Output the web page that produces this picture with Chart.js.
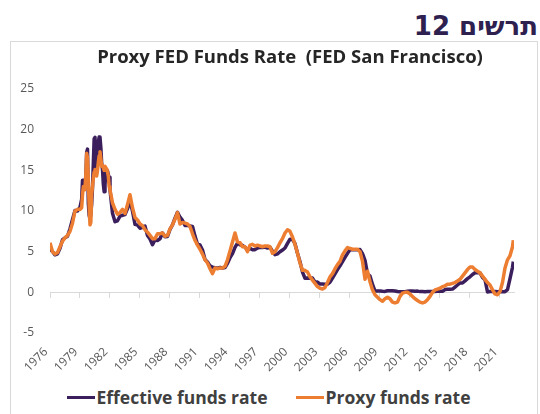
<!DOCTYPE html>
<html><head><meta charset="utf-8">
<script src="https://cdn.jsdelivr.net/npm/chart.js@4.4.1/dist/chart.umd.min.js"></script>
<style>
html,body{margin:0;padding:0;background:#fff;}
body{width:540px;height:414px;position:relative;overflow:hidden;font-family:"Open Sans",sans-serif;}
#heading{position:absolute;right:2px;top:11px;font:bold 26px "DejaVu Sans",sans-serif;color:#2e2150;direction:rtl;white-space:nowrap;line-height:normal;}
#box{position:absolute;left:10px;top:41px;width:526px;height:400px;border:1px solid #d9d9d9;}
#title{position:absolute;left:0;width:580px;top:43px;text-align:center;font:bold 18.5px "Open Sans",sans-serif;color:#262626;white-space:nowrap;}
#wrap{position:absolute;left:11px;top:42px;width:525px;height:340px;}
#legend{position:absolute;left:0;width:537px;top:385px;display:flex;justify-content:center;align-items:center;font:bold 17.5px "Open Sans",sans-serif;color:#404040;white-space:nowrap;}
.item{display:flex;align-items:center;}
.item + .item{margin-left:28px;}
.sw{display:inline-block;width:28px;height:3px;margin-right:2px;}
</style>
</head><body>
<div id="heading">תרשים 12</div>
<div id="box"></div>
<div id="wrap"><canvas id="c" width="525" height="340"></canvas></div>
<div id="title">Proxy FED Funds Rate&nbsp; (FED San Francisco)</div>
<div id="legend">
  <div class="item"><span class="sw" style="background:#3b1e5c"></span><span>Effective funds rate</span></div>
  <div class="item"><span class="sw" style="background:#ed7d31"></span><span>Proxy funds rate</span></div>
</div>
<script>
// x tick labels (years)
const tickYears = [1976,1979,1982,1985,1988,1991,1994,1997,2000,2003,2006,2009,2012,2015,2018,2021];

// categories: quarterly Jul-1976..Apr-1979, monthly Jul-1979..Jun-1982, quarterly Jul-1982..Oct-2022, Nov-2022
function monthSeq(y0,m0,y1,m1,step){
  const out=[]; let y=y0,m=m0;
  while(y<y1||(y===y1&&m<=m1)){ out.push(y+(m-1)/12); m+=step; while(m>12){m-=12;y++;} }
  return out;
}
const dates = [].concat(
  monthSeq(1976,7,1979,4,3),
  monthSeq(1979,7,1982,6,1),
  monthSeq(1982,7,2022,10,3),
  monthSeq(2022,11,2022,11,1)
);

const effectiveRate = [
 5.31,5.02,4.61,4.73,5.42,6.47,6.70,6.89,7.81,8.96,10.07,10.01,
 10.47,10.94,11.43,13.77,13.18,13.78,
 13.82,14.13,17.19,17.61,10.98,9.47,9.03,9.61,10.87,12.81,15.85,18.90,
 19.08,15.93,14.70,15.72,18.52,19.10,19.04,17.82,15.87,15.08,13.31,12.37,
 13.22,14.78,14.68,14.94,14.45,14.15,
 12.59,9.71,
 8.68,8.80,9.37,9.48,
 9.56,10.29,11.23,9.99,
 8.35,8.27,7.88,7.99,
 8.14,6.99,6.56,5.85,
 6.43,6.37,6.58,7.29,
 6.83,6.87,7.75,8.30,
 9.12,9.84,9.24,8.84,
 8.23,8.26,8.15,8.11,
 6.91,5.91,5.82,5.21,
 4.03,3.73,3.25,3.10,
 3.02,2.96,3.06,2.99,
 3.05,3.56,4.26,4.76,
 5.53,6.05,5.85,5.76,
 5.56,5.22,5.40,5.24,
 5.25,5.45,5.54,5.50,
 5.56,5.45,5.54,5.07,
 4.63,4.74,4.99,5.20,
 5.45,6.02,6.54,6.51,
 5.98,4.80,3.77,2.49,
 1.73,1.75,1.73,1.75,
 1.24,1.26,1.01,1.01,
 1.00,1.00,1.26,1.76,
 2.28,2.79,3.26,3.78,
 4.29,4.79,5.24,5.25,
 5.25,5.25,5.26,4.76,
 3.94,2.28,2.01,0.97,
 0.15,0.15,0.16,0.12,
 0.11,0.20,0.18,0.19,
 0.17,0.10,0.07,0.07,
 0.08,0.14,0.16,0.16,
 0.14,0.15,0.09,0.09,
 0.07,0.09,0.09,0.09,
 0.11,0.12,0.13,0.12,
 0.34,0.37,0.39,0.40,
 0.65,0.90,1.15,1.15,
 1.41,1.69,1.91,2.19,
 2.40,2.42,2.40,1.83,
 1.55,0.05,0.09,0.09,
 0.09,0.07,0.10,0.08,
 0.08,0.33,1.68,3.08,
 3.78
];

const proxyRate = [
 6.1,5.0,4.7,4.9,5.6,6.3,6.7,7.0,7.5,8.5,10.0,10.2,
 10.2,10.3,10.4,12.0,13.0,12.6,
 12.8,14.5,17.1,16.5,13.8,10.5,8.3,8.6,12.0,13.0,14.0,14.8,
 15.1,14.5,14.3,15.0,16.0,16.8,17.3,16.5,15.5,15.6,15.3,15.0,
 15.5,15.3,15.2,14.8,14.3,13.0,
 12.6,11.0,
 10.2,9.6,9.8,10.2,
 9.7,10.8,12.0,10.4,
 9.2,8.9,8.4,8.2,
 7.7,7.4,7.0,6.6,
 6.6,7.2,7.2,7.3,
 6.9,7.0,7.8,8.3,
 9.0,9.8,8.4,8.6,
 8.5,8.4,8.1,7.2,
 6.4,5.8,5.3,4.7,
 4.0,3.6,2.9,2.3,
 3.0,2.9,3.0,3.0,
 3.2,4.0,5.1,6.2,
 7.3,6.2,6.1,5.6,
 5.6,5.0,5.8,5.9,
 5.7,5.8,5.7,5.6,
 5.7,5.7,5.6,4.8,
 5.0,5.5,6.1,6.6,
 7.3,7.7,7.5,6.8,
 5.9,4.8,3.6,2.7,
 2.7,2.5,1.9,1.5,
 1.1,0.7,0.5,0.4,
 0.6,1.2,1.9,2.3,
 2.9,3.4,3.8,4.6,
 5.1,5.5,5.4,5.3,
 5.3,5.3,5.0,3.8,
 1.6,2.6,1.3,0.3,
 -0.3,-0.6,-0.9,-1.1,
 -0.8,-0.6,-0.8,-1.2,
 -1.3,-1.2,-0.5,-0.1,
 0.0,0.0,-0.2,-0.5,
 -0.8,-1.0,-1.2,-1.3,
 -1.2,-0.9,-0.5,0.0,
 0.3,0.4,0.5,0.7,
 0.8,1.0,1.0,1.1,
 1.2,1.4,1.6,2.0,
 2.4,2.8,3.1,3.1,
 2.8,2.6,2.4,2.0,
 1.6,1.2,0.9,0.3,
 -0.2,-0.3,0.1,1.2,
 3.0,4.0,4.5,5.6,
 6.4
];

const yTicks = {min:-5, max:25, step:5};

const toPoints = vals => vals.map((v,i)=>({x:dates[i], y:v}));
const setYearTicks = s => { s.ticks = tickYears.map(y=>({value:y+0.5})); };
const tickFont = {family:'"Open Sans", sans-serif', size:12};
const xMin = dates[0], xMax = 2022.9;

new Chart(document.getElementById('c'), {
  type:'line',
  data:{datasets:[
    {label:'Effective funds rate', data:toPoints(effectiveRate), borderColor:'#3b1e5c', backgroundColor:'#3b1e5c', borderWidth:3.5, pointRadius:0, tension:0, order:1, borderJoinStyle:'round'},
    {label:'Proxy funds rate', data:toPoints(proxyRate), borderColor:'#ed7d31', backgroundColor:'#ed7d31', borderWidth:3.5, pointRadius:0, tension:0, order:0, borderJoinStyle:'round'}
  ]},
  options:{
    responsive:false, animation:false,
    layout:{padding:{top:47,right:22,bottom:0,left:0}},
    plugins:{legend:{display:false}, title:{display:false}, tooltip:{enabled:false}},
    scales:{
      x:{type:'linear', position:'bottom', min:xMin, max:xMax,
         afterBuildTicks:setYearTicks,
         afterFit:s=>{s.height=49;},
         ticks:{autoSkip:false, minRotation:45, maxRotation:45, color:'#595959', font:tickFont, padding:4, labelOffset:-4,
                callback:v=>String(Math.round(v-0.5))},
         grid:{display:false}, border:{display:false}},
      x0:{type:'linear', axis:'x', position:{y:0}, min:xMin, max:xMax,
         afterBuildTicks:setYearTicks,
         ticks:{display:false},
         grid:{display:true, drawOnChartArea:false, drawTicks:true, tickLength:5, color:'#d9d9d9'},
         border:{display:true, color:'#d9d9d9', width:1}},
      y:{min:yTicks.min, max:yTicks.max,
         afterFit:s=>{s.width=39;},
         ticks:{stepSize:yTicks.step, color:'#595959', font:tickFont, padding:16, callback:v=>String(v)},
         grid:{display:false, drawTicks:false, tickLength:0}, border:{display:false}}
    }
  }
});
</script>
</body></html>
